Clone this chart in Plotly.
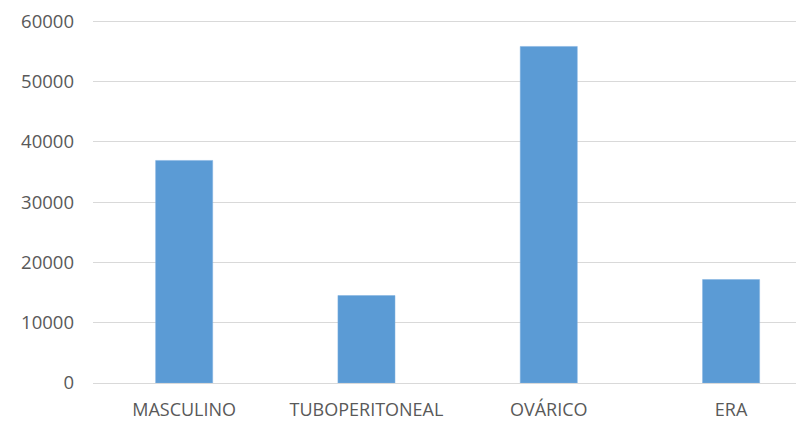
import plotly.graph_objects as go

categories = ["MASCULINO", "TUBOPERITONEAL", "OVÁRICO", "ERA"]
values = [36900, 14500, 55800, 17150]
y_ticks = [0, 10000, 20000, 30000, 40000, 50000, 60000]

fig = go.Figure(
    go.Bar(
        x=categories,
        y=values,
        marker=dict(color="#5B9BD5", line=dict(color="#7FB1E0", width=0.5)),
    )
)

# page body has an 8px margin, so the figure is sized/offset to compensate
fig.update_layout(
    width=796,
    height=413,
    margin=dict(l=85, r=0, t=9, b=30),
    paper_bgcolor="white",
    plot_bgcolor="white",
    bargap=0.687,
    showlegend=False,
    font=dict(family="Open Sans", size=18, color="#595959"),
)

fig.update_xaxes(
    range=[-0.5, 3.4],
    showgrid=False,
    showline=True,
    linecolor="#D9D9D9",
    linewidth=1,
    ticks="",
    ticklabelstandoff=10,
    ticklabeloverflow="allow",
    tickfont=dict(size=18, color="#595959"),
)

fig.update_yaxes(
    range=[0, 60350],
    tickvals=y_ticks,
    ticktext=[str(v) for v in y_ticks],
    showgrid=True,
    gridcolor="#D9D9D9",
    gridwidth=1,
    zeroline=False,
    showline=False,
    ticks="",
    ticklabelstandoff=18,
    ticklabeloverflow="allow",
    tickfont=dict(size=18.5, color="#595959"),
)

fig.write_html("out.html")
